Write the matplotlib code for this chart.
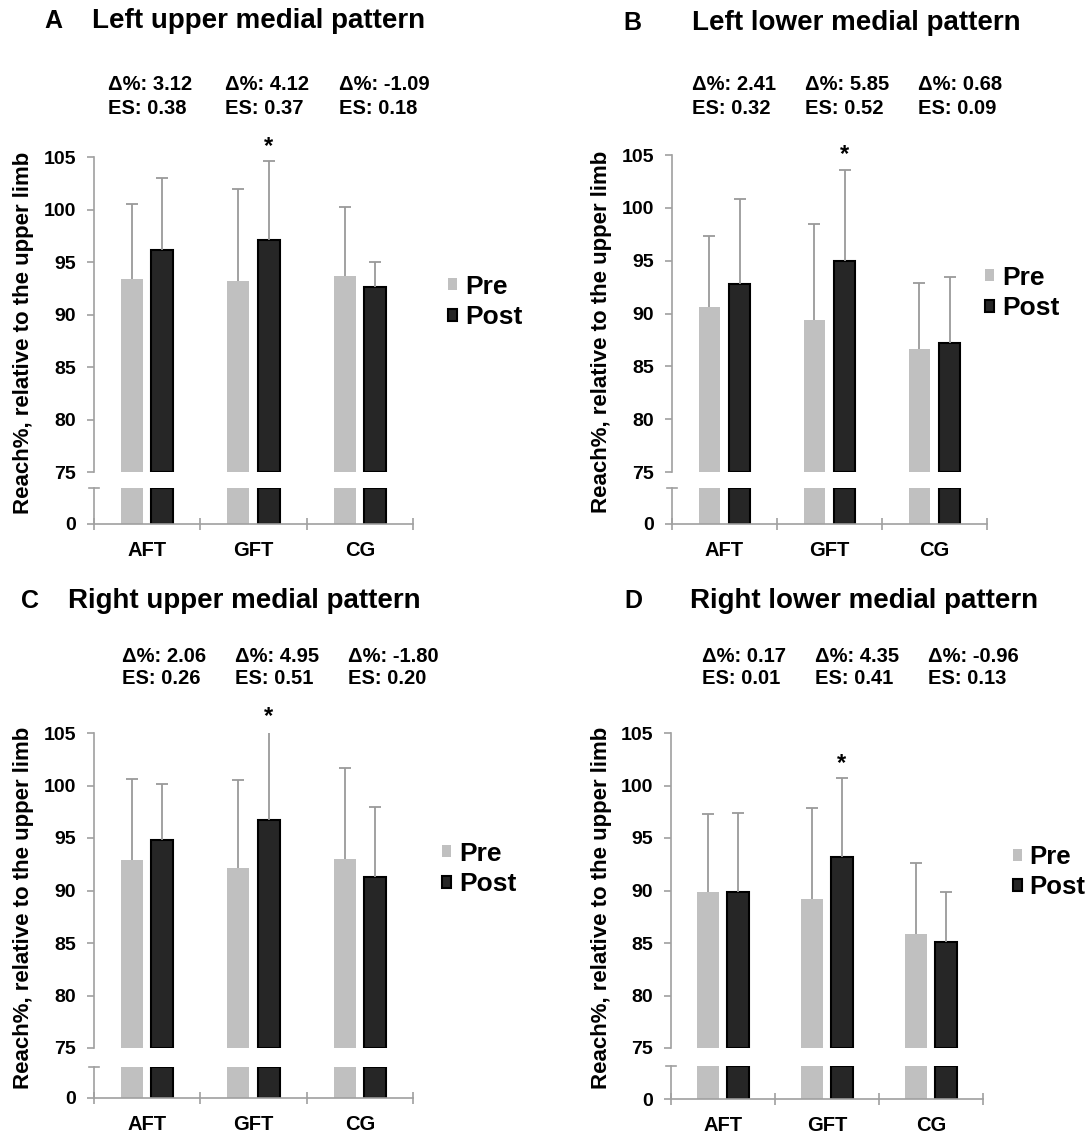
import numpy as np
import matplotlib
matplotlib.use('Agg')
import matplotlib.pyplot as plt

plt.rcParams['font.family'] = ['Liberation Sans', 'DejaVu Sans']
plt.rcParams['font.weight'] = 'bold'

W, H = 1092, 1135

groups = ['AFT', 'GFT', 'CG']
letters = ['A', 'B', 'C', 'D']
titles = ['Left upper medial pattern', 'Left lower medial pattern',
          'Right upper medial pattern', 'Right lower medial pattern']

# means and upper SD
pre_A = [93.4, 93.2, 93.7]
pre_A_sd = [7.1, 8.8, 6.5]
post_A = [96.1, 97.1, 92.6]
post_A_sd = [6.9, 7.5, 2.4]

pre_B = [90.6, 89.4, 86.6]
pre_B_sd = [6.7, 9.1, 6.3]
post_B = [92.8, 95.0, 87.2]
post_B_sd = [8.0, 8.6, 6.3]

pre_C = [92.9, 92.1, 93.0]
pre_C_sd = [7.7, 8.4, 8.7]
post_C = [94.8, 96.7, 91.3]
post_C_sd = [5.3, 8.5, 6.7]

pre_D = [89.9, 89.2, 85.9]
pre_D_sd = [7.4, 8.7, 6.7]
post_D = [89.9, 93.2, 85.1]
post_D_sd = [7.5, 7.5, 4.8]

delta_A = ['3.12', '4.12', '-1.09']
es_A = ['0.38', '0.37', '0.18']
delta_B = ['2.41', '5.85', '0.68']
es_B = ['0.32', '0.52', '0.09']
delta_C = ['2.06', '4.95', '-1.80']
es_C = ['0.26', '0.51', '0.20']
delta_D = ['0.17', '4.35', '-0.96']
es_D = ['0.01', '0.41', '0.13']

sig_group = 1  # GFT post marked with *

panels = [
    (pre_A, pre_A_sd, post_A, post_A_sd, delta_A, es_A),
    (pre_B, pre_B_sd, post_B, post_B_sd, delta_B, es_B),
    (pre_C, pre_C_sd, post_C, post_C_sd, delta_C, es_C),
    (pre_D, pre_D_sd, post_D, post_D_sd, delta_D, es_D),
]

# layout in pixels: x0, x1, y105, y75, ybreak, y0
geom = [
    (94, 413, 157, 472, 488, 524),
    (672, 987, 155, 472, 488, 524),
    (94, 413, 733, 1048, 1067, 1098),
    (671, 983, 733, 1048, 1066, 1099),
]
# letter x, title x, title y
title_pos = [(53, 92, 21), (632, 692, 23), (30, 68, 601), (633, 690, 601)]
# delta/ES text: x of each column, y of first row
stat_pos = [((108, 225, 339), 85), ((692, 805, 918), 85),
            ((122, 235, 348), 656), ((702, 815, 928), 656)]
# legend: marker x, middle y
leg_pos = [(453, 302), (990, 293), (447, 869), (1018, 872)]
leg_size = [19, 19, 19, 18.5]

pre_color = '#c0c0c0'
post_color = '#262626'
axis_color = '#a0a0a0'
err_color = '#9a9a9a'


def fx(px):
    return px / W


def fy(py):
    return 1 - py / H


def upper_err(ax, xs, ys, sd):
    line, caps, bars = ax.errorbar(xs, ys, yerr=[np.zeros(len(sd)), sd],
                                   fmt='none', ecolor=err_color,
                                   elinewidth=1.3, capsize=4, capthick=1.3)
    caps[0].set_visible(False)


fig = plt.figure(figsize=(W / 100, H / 100), dpi=100)

x = np.arange(len(groups))
off = 0.143
width = 0.205
low_top = 10

for i, (pre, pre_sd, post, post_sd, dlt, es) in enumerate(panels):
    x0, x1, y105, y75, ybrk, y0 = geom[i]
    pre = np.array(pre)
    post = np.array(post)

    ax = fig.add_axes([fx(x0), fy(y75), (x1 - x0) / W, (y75 - y105) / H])
    axb = fig.add_axes([fx(x0), fy(y0), (x1 - x0) / W, (y0 - ybrk) / H])

    # upper part
    bp = ax.bar(x - off, pre - 75, width, bottom=75, color=pre_color)
    bq = ax.bar(x + off, post - 75, width, bottom=75, color=post_color,
                edgecolor='black', linewidth=1.5)
    upper_err(ax, x - off, pre, pre_sd)
    upper_err(ax, x + off, post, post_sd)
    ax.set_xlim(-0.5, 2.5)
    ax.set_ylim(75, 105)
    ax.set_yticks(np.arange(75, 106, 5))
    ax.set_xticks([])
    for s in ['top', 'right', 'bottom']:
        ax.spines[s].set_visible(False)
    ax.spines['left'].set_color(axis_color)
    ax.spines['left'].set_linewidth(1.2)
    ax.tick_params(axis='y', colors=axis_color, labelcolor='black',
                   length=5, width=1.2, pad=8, labelsize=14)

    # significance star
    ax.text(sig_group + off, post[sig_group] + post_sd[sig_group] + 1.4, '*',
            ha='center', va='center', fontsize=17, clip_on=False)

    # lower part
    axb.bar(x - off, np.minimum(pre, low_top), width, color=pre_color)
    axb.bar(x + off, np.minimum(post, low_top), width, color=post_color,
            edgecolor='black', linewidth=1.5)
    axb.set_xlim(-0.5, 2.5)
    axb.set_ylim(0, low_top)
    axb.set_yticks([0])
    for s in ['top', 'right']:
        axb.spines[s].set_visible(False)
    for s in ['left', 'bottom']:
        axb.spines[s].set_color(axis_color)
        axb.spines[s].set_linewidth(1.2)
    axb.tick_params(axis='y', colors=axis_color, labelcolor='black',
                    length=5, width=1.2, pad=8, labelsize=14)
    axb.set_xticks([-0.5, 0.5, 1.5, 2.5])
    axb.set_xticklabels([])
    axb.tick_params(axis='x', which='major', direction='inout', length=9,
                    width=1.2, colors=axis_color)
    axb.set_xticks(x, minor=True)
    axb.set_xticklabels(groups, minor=True)
    axb.tick_params(axis='x', which='minor', length=0, pad=12, labelsize=14.5)
    # break cap
    axb.plot([-0.55, -0.45], [low_top, low_top], color=axis_color, lw=1.2,
             clip_on=False)

    # y label
    fig.text(fx(x0 - 70), fy((y105 + y0) / 2 - 8),
             'Reach%, relative to the upper limb', rotation=90,
             ha='center', va='center', fontsize=16)

    # letter and title
    lx, tx, ty = title_pos[i]
    fig.text(fx(lx), fy(ty), letters[i], ha='center', va='center', fontsize=18)
    fig.text(fx(tx), fy(ty), titles[i], ha='left', va='center', fontsize=20)

    # delta and effect size
    cols, sy = stat_pos[i]
    for j in range(3):
        fig.text(fx(cols[j]), fy(sy), 'Δ%: ' + dlt[j], ha='left', va='center',
                 fontsize=14.5)
        fig.text(fx(cols[j]), fy(sy + 23), 'ES: ' + es[j], ha='left',
                 va='center', fontsize=14.5)

    # legend
    mx, my = leg_pos[i]
    ax.legend([bp, bq], ['Pre', 'Post'], loc='center left',
              bbox_to_anchor=(fx(mx - 5), fy(my)),
              bbox_transform=fig.transFigure, frameon=False,
              handlelength=0.35, handleheight=0.35, handletextpad=0.3,
              labelspacing=0.25, borderpad=0, borderaxespad=0,
              prop=dict(weight='bold', size=leg_size[i]))

fig.savefig('out.png', dpi=100)
